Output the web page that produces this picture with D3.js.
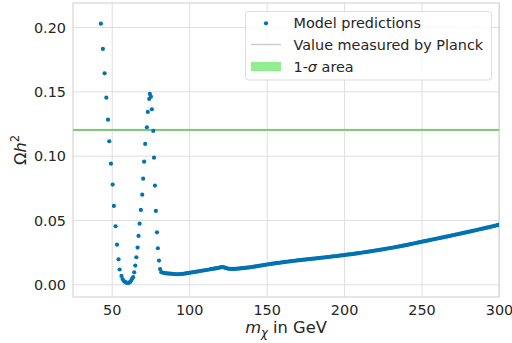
<!DOCTYPE html>
<html>
<head>
<meta charset="utf-8">
<script src="https://cdn.jsdelivr.net/npm/d3@7"></script>
<style>
  body { margin: 0; background: #fff; }
  svg { font-family: "DejaVu Sans", sans-serif; }
</style>
</head>
<body>
<svg id="svg" width="512" height="343"></svg>
<script>
// resonance region, read point by point (GeV, Omega h^2)
const massPeak = [
    43.0, 44.3, 45.4, 46.5, 47.6, 48.4, 49.5, 50.6, 51.4, 52.5, 53.4, 54.4, 55.1,
    56.3, 57.0, 57.7, 58.4, 59.1, 59.8, 60.5, 61.2, 61.9, 62.6, 63.2, 63.8,
    64.5, 65.2, 65.9, 66.7, 67.3, 68.0, 68.8, 69.7, 70.3, 70.9, 71.6, 72.7,
    73.3, 74.2, 74.6, 75.3, 75.9, 76.8, 77.3, 77.9, 78.5, 79.2, 79.8, 80.5, 81.2
];
const omegaPeak = [
    0.2026, 0.1830, 0.1640, 0.1451, 0.1280, 0.1112, 0.0938, 0.0775, 0.0609, 0.0451, 0.0308, 0.0194, 0.0115,
    0.0065, 0.0040, 0.0027, 0.0019, 0.0014, 0.0011, 0.0010, 0.0012, 0.0018, 0.0030, 0.0045, 0.0055,
    0.0093, 0.0145, 0.0210, 0.0285, 0.0376, 0.0471, 0.0578, 0.0697, 0.0821, 0.0953, 0.1091, 0.1221,
    0.1340, 0.1441, 0.1480, 0.1459, 0.1361, 0.1192, 0.0984, 0.0767, 0.0570, 0.0404, 0.0280, 0.0184, 0.0118
];

// dense scan above 82 GeV, one value per GeV
const massScan = d3.range(82, 301);
const omegaScan = [
    0.0094, 0.0090, 0.0087, 0.0085, 0.0084, 0.0083, 0.0082, 0.0081, 0.0080, 0.0079,
    0.0078, 0.0078, 0.0079, 0.0080, 0.0081, 0.0083, 0.0085, 0.0087, 0.0089, 0.0091,
    0.0093, 0.0095, 0.0097, 0.0099, 0.0101, 0.0103, 0.0105, 0.0107, 0.0109, 0.0111,
    0.0113, 0.0115, 0.0117, 0.0119, 0.0121, 0.0123, 0.0125, 0.0128, 0.0131, 0.0134,
    0.0133, 0.0129, 0.0125, 0.0122, 0.0120, 0.0119, 0.0119, 0.0119, 0.0120, 0.0121,
    0.0122, 0.0123, 0.0125, 0.0126, 0.0127, 0.0129, 0.0130, 0.0132, 0.0134, 0.0136,
    0.0137, 0.0139, 0.0141, 0.0143, 0.0145, 0.0147, 0.0149, 0.0151, 0.0153, 0.0155,
    0.0157, 0.0159, 0.0160, 0.0162, 0.0164, 0.0166, 0.0167, 0.0169, 0.0171, 0.0172,
    0.0174, 0.0175, 0.0177, 0.0178, 0.0180, 0.0181, 0.0183, 0.0184, 0.0186, 0.0187,
    0.0188, 0.0190, 0.0191, 0.0192, 0.0194, 0.0195, 0.0196, 0.0198, 0.0199, 0.0200,
    0.0202, 0.0203, 0.0204, 0.0206, 0.0207, 0.0208, 0.0210, 0.0211, 0.0212, 0.0214,
    0.0215, 0.0217, 0.0218, 0.0219, 0.0221, 0.0222, 0.0224, 0.0225, 0.0227, 0.0229,
    0.0230, 0.0232, 0.0233, 0.0235, 0.0237, 0.0238, 0.0240, 0.0242, 0.0243, 0.0245,
    0.0247, 0.0249, 0.0250, 0.0252, 0.0254, 0.0256, 0.0258, 0.0260, 0.0262, 0.0264,
    0.0266, 0.0268, 0.0270, 0.0272, 0.0274, 0.0276, 0.0278, 0.0280, 0.0282, 0.0284,
    0.0286, 0.0289, 0.0291, 0.0293, 0.0295, 0.0297, 0.0300, 0.0302, 0.0304, 0.0307,
    0.0310, 0.0312, 0.0315, 0.0317, 0.0320, 0.0322, 0.0325, 0.0327, 0.0330, 0.0333,
    0.0335, 0.0338, 0.0340, 0.0343, 0.0345, 0.0348, 0.0350, 0.0353, 0.0355, 0.0358,
    0.0360, 0.0363, 0.0365, 0.0368, 0.0370, 0.0373, 0.0375, 0.0378, 0.0381, 0.0383,
    0.0386, 0.0388, 0.0391, 0.0394, 0.0396, 0.0399, 0.0402, 0.0404, 0.0407, 0.0410,
    0.0412, 0.0415, 0.0418, 0.0420, 0.0423, 0.0426, 0.0429, 0.0431, 0.0434, 0.0437,
    0.0440, 0.0442, 0.0445, 0.0448, 0.0451, 0.0454, 0.0457, 0.0460, 0.0463
];

const planck = 0.12;
const planckSigma = 0.0008;
const xTicks = [50, 100, 150, 200, 250, 300];
const yTicks = [0.00, 0.05, 0.10, 0.15, 0.20];
const legendLabels = ['Model predictions', 'Value measured by Planck', '1-σ area'];

const points = massPeak.map((m, i) => ({m: m, o: omegaPeak[i]}))
    .concat(massScan.map((m, i) => ({m: m, o: omegaScan[i]})));

const svg = d3.select('#svg');
const area = {left: 73, right: 499, top: 3, bottom: 297};
const textColor = '#262626';
const gridColor = '#dedede';
const dotColor = '#0173b2';

const xScale = d3.scaleLinear().domain([25, 300]).range([area.left, area.right]);
const yScale = d3.scaleLinear().domain([-0.0099, 0.2187]).range([area.bottom, area.top]);

svg.append('clipPath').attr('id', 'clip')
    .append('rect')
    .attr('x', area.left).attr('y', area.top)
    .attr('width', area.right - area.left).attr('height', area.bottom - area.top);

// grid
const xAxis = svg.append('g')
    .attr('transform', 'translate(0,' + area.bottom + ')')
    .call(d3.axisBottom(xScale).tickValues(xTicks).tickSize(-(area.bottom - area.top)).tickPadding(8));
const yAxis = svg.append('g')
    .attr('transform', 'translate(' + area.left + ',0)')
    .call(d3.axisLeft(yScale).tickValues(yTicks).tickFormat(d3.format('.2f'))
        .tickSize(-(area.right - area.left)).tickPadding(7));

[xAxis, yAxis].forEach(ax => {
    ax.select('.domain').remove();
    ax.selectAll('.tick line').attr('stroke', gridColor).attr('stroke-width', 1);
    ax.selectAll('.tick text')
        .attr('fill', textColor)
        .style('font-size', '14.4px')
        .style('font-family', '"DejaVu Sans", sans-serif');
});
xAxis.selectAll('.tick text').attr('dy', '0.71em');
yAxis.selectAll('.tick text').attr('dy', '0.36em');

// frame
svg.append('rect')
    .attr('x', area.left).attr('y', area.top)
    .attr('width', area.right - area.left).attr('height', area.bottom - area.top)
    .attr('fill', 'none').attr('stroke', '#d6d6d6').attr('stroke-width', 1.2);

const plot = svg.append('g').attr('clip-path', 'url(#clip)');

// Planck band + line
plot.append('rect')
    .attr('x', area.left).attr('width', area.right - area.left)
    .attr('y', yScale(planck + planckSigma))
    .attr('height', yScale(planck - planckSigma) - yScale(planck + planckSigma))
    .attr('fill', '#8fdc8f');
plot.append('line')
    .attr('x1', area.left).attr('x2', area.right)
    .attr('y1', yScale(planck)).attr('y2', yScale(planck))
    .attr('stroke', '#66bb66').attr('stroke-width', 1);

plot.selectAll('circle').data(points)
    .enter()
    .append('circle')
    .attr('cx', d => xScale(d.m))
    .attr('cy', d => yScale(d.o))
    .attr('r', 2.1)
    .attr('fill', dotColor);

// axis labels
svg.append('text')
    .attr('x', (area.left + area.right) / 2)
    .attr('y', 333)
    .attr('text-anchor', 'middle')
    .attr('fill', textColor)
    .style('font-size', '16.3px')
    .html('<tspan font-style="italic">m</tspan><tspan font-style="italic" dy="4" font-size="11.5px">χ</tspan><tspan dy="-4"> in GeV</tspan>');

svg.append('text')
    .attr('transform', 'translate(26,' + ((area.top + area.bottom) / 2) + ') rotate(-90)')
    .attr('text-anchor', 'middle')
    .attr('fill', textColor)
    .style('font-size', '16.3px')
    .html('Ω<tspan font-style="italic">h</tspan><tspan dy="-7" font-size="11.5px">2</tspan>');

// legend
const legend = svg.append('g');
legend.append('rect')
    .attr('x', 245.5).attr('y', 11.5)
    .attr('width', 246).attr('height', 68.5)
    .attr('rx', 3)
    .attr('fill', 'rgba(255,255,255,0.85)')
    .attr('stroke', '#dcdcdc');

const rowY = [23.3, 44.5, 66.5];
legend.append('circle').attr('cx', 266).attr('cy', rowY[0]).attr('r', 2.1).attr('fill', dotColor);
legend.append('line')
    .attr('x1', 251).attr('x2', 281).attr('y1', rowY[1]).attr('y2', rowY[1])
    .attr('stroke', '#c8c8c8').attr('stroke-width', 1.3);
legend.append('rect')
    .attr('x', 251).attr('y', rowY[2] - 4.5).attr('width', 30).attr('height', 9)
    .attr('fill', '#90ee90');

legend.selectAll('.ltext').data(legendLabels)
    .enter()
    .append('text')
    .attr('class', 'ltext')
    .attr('x', 293.5)
    .attr('y', (d, i) => rowY[i])
    .attr('dy', '0.36em')
    .attr('fill', textColor)
    .style('font-size', '14.4px')
    .html(d => d === '1-σ area' ? '1-<tspan font-style="italic">σ</tspan> area' : d);
</script>
</body>
</html>
